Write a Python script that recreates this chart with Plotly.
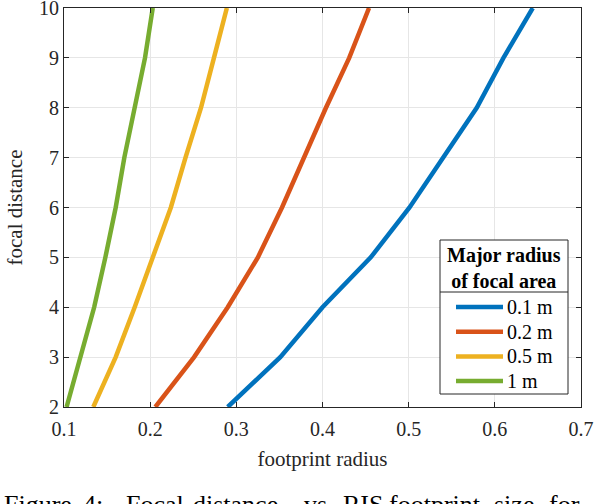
import plotly.graph_objects as go

# focal distance values (y axis)
focal_distance = [2, 3, 4, 5, 6, 7, 8, 9, 10]

# footprint radius for each major radius of focal area
radius_01 = [0.290, 0.351, 0.400, 0.456, 0.501, 0.540, 0.579, 0.610, 0.644]
radius_02 = [0.206, 0.251, 0.290, 0.325, 0.353, 0.378, 0.404, 0.431, 0.454]
radius_05 = [0.134, 0.160, 0.182, 0.203, 0.224, 0.241, 0.259, 0.274, 0.289]
radius_1 = [0.103, 0.119, 0.135, 0.148, 0.160, 0.170, 0.182, 0.194, 0.203]

series_names = ['0.1 m', '0.2 m', '0.5 m', '1 m']
series_colors = ['#0072BD', '#D95319', '#EDB120', '#77AC30']

x_ticks = [0.1, 0.2, 0.3, 0.4, 0.5, 0.6, 0.7]
y_ticks = [2, 3, 4, 5, 6, 7, 8, 9, 10]

caption_words = ['Figure', '4:', 'Focal', 'distance', 'vs', 'RIS', 'footprint', 'size', 'for']

font_family = 'Liberation Serif, Times New Roman, serif'
axis_color = '#262626'

W, H = 598, 504
ML, MR, MT, MB = 64, 17, 8, 97
plot_w = W - ML - MR
plot_h = H - MT - MB


def px_x(px):
    # pixel column -> paper x
    return (px - ML) / plot_w


def px_y(py):
    # pixel row -> paper y
    return (H - MB - py) / plot_h


fig = go.Figure()
for name, xs, color in zip(series_names, [radius_01, radius_02, radius_05, radius_1], series_colors):
    fig.add_trace(go.Scatter(
        x=xs, y=focal_distance, mode='lines', name=name,
        line=dict(color=color, width=4.5), showlegend=False
    ))

axis_common = dict(
    showline=True, linecolor=axis_color, linewidth=1, mirror='ticks',
    ticks='inside', ticklen=5, tickcolor=axis_color,
    showgrid=True, gridcolor='#e6e6e6', gridwidth=1,
    zeroline=False, ticklabeloverflow='allow', automargin=False,
    tickfont=dict(family=font_family, size=20, color=axis_color),
)

fig.update_xaxes(range=[0.1, 0.7], tickvals=x_ticks, ticktext=[f'{v:.1f}' for v in x_ticks],
                 ticklabelstandoff=4,
                 title=dict(text='footprint radius', font=dict(family=font_family, size=21, color=axis_color),
                            standoff=12),
                 **axis_common)
fig.update_yaxes(range=[2, 10], tickvals=y_ticks,
                 title=dict(text='focal distance', font=dict(family=font_family, size=21, color=axis_color),
                            standoff=10),
                 **axis_common)

fig.update_layout(
    width=W, height=H,
    margin=dict(l=ML, r=MR, t=MT, b=MB),
    paper_bgcolor='white', plot_bgcolor='white',
    font=dict(family=font_family, size=20, color=axis_color),
    showlegend=False,
)

# legend box with title and a line under it
fig.add_shape(type='rect', xref='paper', yref='paper', x0=px_x(440), x1=px_x(568), y0=px_y(394), y1=px_y(240),
              fillcolor='white', line=dict(color=axis_color, width=1), layer='above')
fig.add_shape(type='line', xref='paper', yref='paper', x0=px_x(440), x1=px_x(568), y0=px_y(292), y1=px_y(292),
              line=dict(color=axis_color, width=1), layer='above')
fig.add_annotation(text='<b>Major radius<br>of focal area</b>', xref='paper', yref='paper',
                   x=px_x(504), y=px_y(267.5), xanchor='center', yanchor='middle', align='center',
                   showarrow=False, font=dict(family=font_family, size=20, color='black'))
for i, (name, color) in enumerate(zip(series_names, series_colors)):
    row = 307 + i * 24.7
    fig.add_shape(type='line', xref='paper', yref='paper', x0=px_x(456), x1=px_x(503),
                  y0=px_y(row), y1=px_y(row), line=dict(color=color, width=4.5), layer='above')
    fig.add_annotation(text=name, xref='paper', yref='paper', x=px_x(505), y=px_y(row),
                       xanchor='left', yanchor='middle', showarrow=False,
                       font=dict(family=font_family, size=20, color='black'))

# figure caption (justified, cut off at the bottom of the picture)
caption_left = [3, 82, 125, 192, 303, 342, 388, 493, 548]
for word, left in zip(caption_words, caption_left):
    fig.add_annotation(text=word, xref='paper', yref='paper', x=px_x(left - 1), y=px_y(488),
                       xanchor='left', yanchor='top', showarrow=False,
                       font=dict(family=font_family, size=26, color='black'))

# drop the default page margin so the figure sits at the window's corner
fig.write_html('out.html', config={'displayModeBar': False},
               post_script="document.body.style.margin='0';")
